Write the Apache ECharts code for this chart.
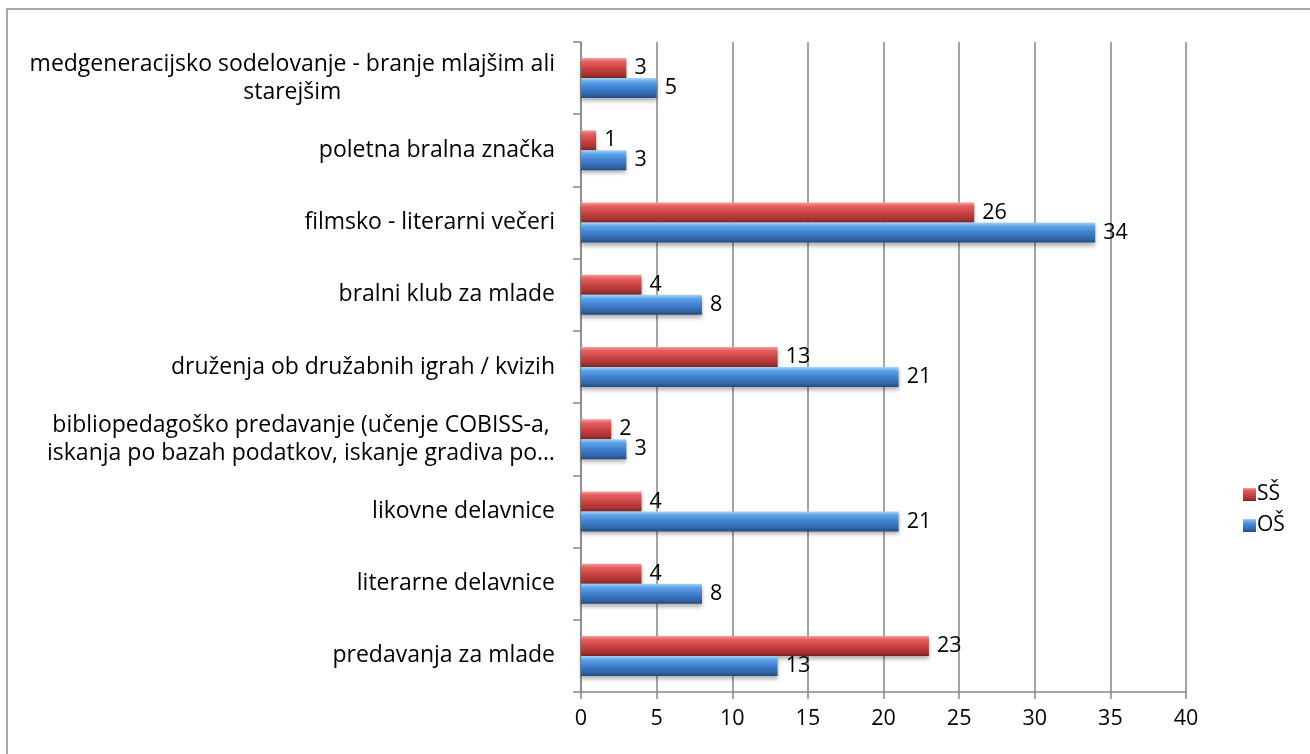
<!DOCTYPE html>
<html>
<head>
<meta charset="utf-8">
<script src="https://cdn.jsdelivr.net/npm/echarts@6/dist/echarts.min.js"></script>
<style>
  html, body { margin: 0; padding: 0; background: #fff; }
  #main { width: 1310px; height: 754px; }
</style>
</head>
<body>
<div id="main"></div>
<script>
  // kategorije od spodaj navzgor
  var categories = [
    'predavanja za mlade',
    'literarne delavnice',
    'likovne delavnice',
    'bibliopedagoško predavanje (učenje COBISS-a,\niskanja po bazah podatkov, iskanje gradiva po…',
    'druženja ob družabnih igrah / kvizih',
    'bralni klub za mlade',
    'filmsko - literarni večeri',
    'poletna bralna značka',
    'medgeneracijsko sodelovanje - branje mlajšim ali\nstarejšim'
  ];
  var ssValues = [23, 4, 4, 2, 13, 4, 26, 1, 3];
  var osValues = [13, 8, 21, 3, 21, 8, 34, 3, 5];
  var xTicks = [0, 5, 10, 15, 20, 25, 30, 35, 40];

  var FONT = 'Open Sans';

  function grad(stops) {
    return new echarts.graphic.LinearGradient(0, 0, 0, 1, stops.map(function (s) {
      return {offset: s[0], color: s[1]};
    }));
  }
  var redGrad = grad([[0, '#f5a0a0'], [0.18, '#e65f5f'], [0.5, '#cc4444'], [0.82, '#a93333'], [1, '#7a2322']]);
  var blueGrad = grad([[0, '#a9d3f8'], [0.18, '#5ea5ea'], [0.5, '#3f80cf'], [0.82, '#3366a8'], [1, '#244a80']]);

  var myChart = echarts.init(document.getElementById('main'));
  myChart.setOption({
    animation: false,
    textStyle: {fontFamily: FONT},
    graphic: [{
      type: 'rect',
      shape: {x: 7, y: 9, width: 1320, height: 800},
      style: {fill: 'none', stroke: '#8a8a8a', lineWidth: 1.5}
    }],
    grid: {
      left: 581,
      right: 124,
      top: 42,
      bottom: 62
    },
    legend: {
      orient: 'vertical',
      left: 1238,
      top: 479,
      itemWidth: 13,
      itemHeight: 13,
      itemGap: 10,
      icon: 'rect',
      data: ['SŠ', 'OŠ'],
      textStyle: {fontSize: 21, color: '#000', fontFamily: FONT, padding: [0, 0, 0, -4]}
    },
    xAxis: {
      type: 'value',
      min: 0,
      max: 40,
      interval: 5,
      axisLine: {show: true, lineStyle: {color: '#868686', width: 1.5}},
      axisTick: {show: true, length: 7, lineStyle: {color: '#868686', width: 1.5}},
      splitLine: {show: true, lineStyle: {color: '#868686', width: 1.5}},
      axisLabel: {
        fontSize: 21.5,
        color: '#000',
        margin: 16,
        formatter: function (v) { return xTicks.indexOf(v) >= 0 ? String(v) : ''; }
      }
    },
    yAxis: {
      type: 'category',
      data: categories,
      axisLine: {show: true, lineStyle: {color: '#868686', width: 1.5}},
      axisTick: {show: true, length: 8, lineStyle: {color: '#868686', width: 1.5}},
      axisLabel: {
        margin: 26,
        color: '#000',
        fontSize: 23,
        lineHeight: 28,
        formatter: function (v) {
          return v.split('\n').map(function (s) { return '{c|' + s + '}'; }).join('\n');
        },
        rich: {
          c: {align: 'center', fontSize: 23, lineHeight: 28, color: '#000', fontFamily: FONT}
        }
      }
    },
    series: [
      {
        name: 'SŠ',
        type: 'bar',
        data: ssValues,
        barWidth: 20,
        barGap: '0%',
        itemStyle: {
          color: redGrad,
          shadowBlur: 4,
          shadowOffsetY: 3,
          shadowColor: 'rgba(0,0,0,0.3)'
        },
        label: {show: true, position: 'right', distance: 8, fontSize: 21.5, color: '#000'}
      },
      {
        name: 'OŠ',
        type: 'bar',
        data: osValues,
        barWidth: 20,
        barGap: '0%',
        itemStyle: {
          color: blueGrad,
          shadowBlur: 4,
          shadowOffsetY: 3,
          shadowColor: 'rgba(0,0,0,0.3)'
        },
        label: {show: true, position: 'right', distance: 8, fontSize: 21.5, color: '#000'}
      }
    ]
  });
</script>
</body>
</html>
